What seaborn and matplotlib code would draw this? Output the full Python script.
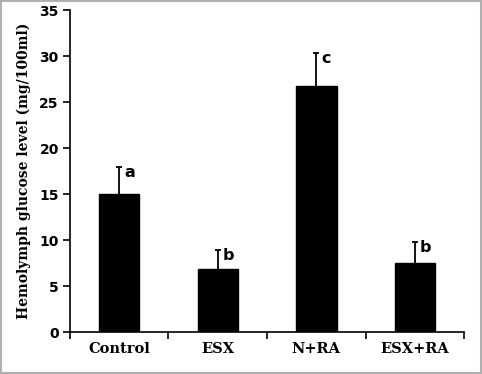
import matplotlib
matplotlib.use("Agg")
import matplotlib.pyplot as plt
import seaborn as sns
import numpy as np
import pandas as pd

categories = ["Control", "ESX", "N+RA", "ESX+RA"]
means = [15.0, 6.9, 26.8, 7.5]
errors = [2.9, 2.0, 3.5, 2.3]
letters = ["a", "b", "c", "b"]
yticks = [0, 5, 10, 15, 20, 25, 30, 35]

sns.set_theme(style="white")
plt.rcParams['font.family'] = ['DejaVu Sans']
plt.rcParams['text.color'] = 'black'
plt.rcParams['xtick.color'] = 'black'
plt.rcParams['ytick.color'] = 'black'
plt.rcParams['axes.labelcolor'] = 'black'

fig = plt.figure(figsize=(4.82, 3.74), dpi=100)
ax = fig.add_axes([0.145, 0.112, 0.818, 0.861])

df = pd.DataFrame({"cat": categories, "val": means})
sns.barplot(data=df, x="cat", y="val", color="black", width=0.41,
            errorbar=None, ax=ax, saturation=1)
for p in ax.patches:
    p.set_edgecolor("black")

x = np.arange(len(categories))
eb = ax.errorbar(x, means, yerr=[np.zeros(len(means)), errors], fmt="none",
                 ecolor="black", elinewidth=1.3, capsize=2.5, capthick=1.3)
eb[1][0].set_visible(False)
for xi, m, e, l in zip(x, means, errors, letters):
    ax.text(xi + 0.05, m + e - 0.6, l, ha="left", va="center",
            fontsize=11.5, fontweight="bold", family="DejaVu Sans", color="black")

ax.set_xlim(-0.5, 3.5)
ax.set_ylim(0, 35)
ax.set_yticks(yticks)
ax.set_yticklabels([str(t) for t in yticks], fontsize=10, fontweight="bold")
ax.set_xticks(x)
ax.set_xticklabels(categories, fontsize=10.5, fontweight="bold", family="DejaVu Serif")
ax.set_xticks(np.arange(-0.5, 4, 1), minor=True)
ax.tick_params(axis="x", which="major", length=0, pad=7)
ax.tick_params(axis="x", which="minor", length=5, width=1.2, direction="out", bottom=True)
ax.tick_params(axis="y", length=5, width=1.2, direction="out", left=True, pad=3)
ax.set_xlabel("")
ax.set_ylabel("Hemolymph glucose level (mg/100ml)", fontsize=10,
              fontweight="bold", family="DejaVu Serif", labelpad=6)
for s in ["top", "right"]:
    ax.spines[s].set_visible(False)
for s in ["left", "bottom"]:
    ax.spines[s].set_color("black")
    ax.spines[s].set_linewidth(1.2)

fig.patches.append(plt.Rectangle((0.002, 0.003), 0.995, 0.993, transform=fig.transFigure,
                                 fill=False, edgecolor="#b0b0b0", linewidth=1.5))
fig.savefig("out.png", dpi=100)
